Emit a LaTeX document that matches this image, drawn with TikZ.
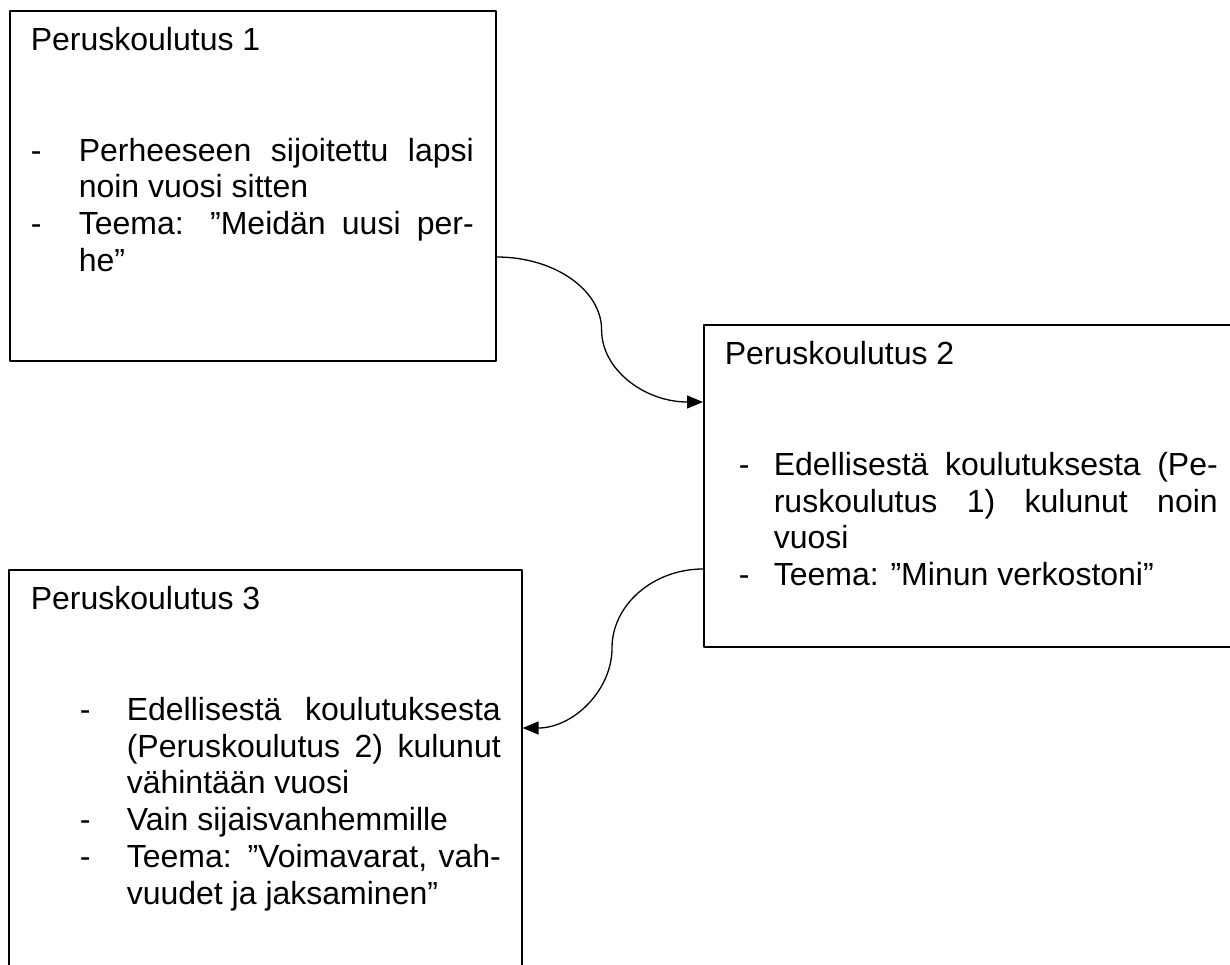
\documentclass[tikz,border=0pt]{standalone}
\usepackage{fontspec}
\setmainfont{Liberation Sans}
\usetikzlibrary{arrows.meta}
\newlength\viivax \newlength\tekstix \newlength\palsta
\newcommand{\otsikko}[2]{\hspace*{#1}\rule{0pt}{40pt}#2\par\vspace{73.6pt}}
\newcommand{\kohta}[1]{\hspace*{\viivax}\makebox[\dimexpr\tekstix-\viivax][l]{-}\makebox[\palsta][s]{#1}\par}
\newcommand{\kohtaloppu}[1]{\hspace*{\viivax}\makebox[\dimexpr\tekstix-\viivax][l]{-}#1\par}
\newcommand{\rivi}[1]{\hspace*{\tekstix}\makebox[\palsta][s]{#1}\par}
\newcommand{\riviloppu}[1]{\hspace*{\tekstix}#1\par}
\newcommand{\kortti}[3]{\parbox[t][#2][t]{#1}{\setlength{\parindent}{0pt}#3}}
\tikzset{
  laatikko/.style={draw, line width=1.6pt, inner sep=0pt, anchor=north west},
  nuoli/.style={line width=1.3pt, -{Triangle[length=16pt,width=13pt]}}
}
\begin{document}
\begin{tikzpicture}[x=1pt, y=-1pt, font=\fontsize{32pt}{36.8pt}\selectfont, line join=round, line cap=round]
\useasboundingbox (0,0) rectangle (1230,965);
\clip (0,0) rectangle (1230,965);
% koulutus 1
\node[laatikko] (b1) at (9,10) {\kortti{486pt}{350pt}{%
  \setlength\viivax{21pt}\setlength\tekstix{69pt}\setlength\palsta{395pt}%
  \otsikko{21pt}{Peruskoulutus 1}
  \kohta{Perheeseen sijoitettu lapsi}
  \riviloppu{noin vuosi sitten}
  \kohta{Teema: ”Meidän uusi per-}
  \riviloppu{he”}}};
% koulutus 2
\node[laatikko] (b2) at (703,324) {\kortti{547pt}{322pt}{%
  \setlength\viivax{35pt}\setlength\tekstix{70pt}\setlength\palsta{444pt}%
  \otsikko{21pt}{Peruskoulutus 2}
  \kohta{Edellisestä koulutuksesta (Pe-}
  \rivi{ruskoulutus 1) kulunut noin}
  \riviloppu{vuosi}
  \kohtaloppu{Teema: ”Minun verkostoni”}}};
% koulutus 3
\node[laatikko] (b3) at (8,569) {\kortti{513pt}{420pt}{%
  \setlength\viivax{71pt}\setlength\tekstix{118pt}\setlength\palsta{374pt}%
  \otsikko{22pt}{Peruskoulutus 3}
  \kohta{Edellisestä koulutuksesta}
  \rivi{(Peruskoulutus 2) kulunut}
  \riviloppu{vähintään vuosi}
  \kohtaloppu{Vain sijaisvanhemmille}
  \kohta{Teema: ”Voimavarat, vah-}
  \riviloppu{vuudet ja jaksaminen”}}};
% nuolet
\draw[nuoli] ([yshift=-247pt]b1.north east) .. controls +(58,0) and +(0,-40) .. ++(105,73)
  .. controls +(0,40) and +(-58,0) .. ([yshift=-78pt]b2.north west);
\draw[nuoli] ([yshift=-245pt]b2.north west) .. controls +(-50,0) and +(0,-43) .. ++(-91,79)
  .. controls +(0,43) and +(50,0) .. ([yshift=-159pt]b3.north east);
\end{tikzpicture}
\end{document}
